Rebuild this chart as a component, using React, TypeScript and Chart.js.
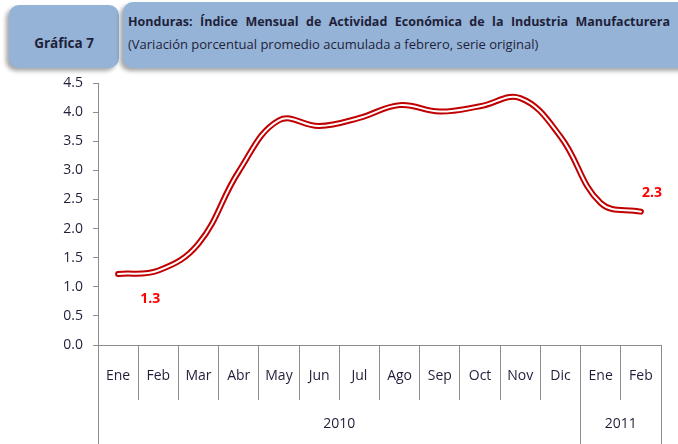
import React, { useEffect, useRef } from "react";
import { Chart, registerables } from "chart.js";

Chart.register(...registerables);

const months = ["Ene", "Feb", "Mar", "Abr", "May", "Jun", "Jul", "Ago", "Sep", "Oct", "Nov", "Dic", "Ene", "Feb"];
const values = [1.22, 1.28, 1.74, 2.98, 3.86, 3.76, 3.9, 4.12, 4.01, 4.1, 4.24, 3.58, 2.44, 2.29];
const years = ["2010", "2011"];
const yearSpans = [12, 2];
const labelIndices = [1, 13];
const labelTexts = ["1.3", "2.3"];
const yTicks = [0, 0.5, 1, 1.5, 2, 2.5, 3, 3.5, 4, 4.5];

const FONT = "'Open Sans', 'Liberation Sans', sans-serif";
const AXIS_GRAY = "#8c8c8c";
const TEXT = "#1f1f3a";

const yearBounds: number[] = [-0.5];
const yearCenters: number[] = [];
{
  let start = -0.5;
  yearSpans.forEach((n) => {
    yearCenters.push(start + n / 2);
    start += n;
    yearBounds.push(start);
  });
}

const labelOffsets = [
  { dx: -8, dy: 29 },
  { dx: 11, dy: -19 },
];

const dataLabelPlugin = {
  id: "dataLabels",
  afterDatasetsDraw(chart: any) {
    const meta = chart.getDatasetMeta(0);
    const ctx = chart.ctx;
    ctx.save();
    ctx.font = `bold 14px ${FONT}`;
    ctx.fillStyle = "#ff0000";
    ctx.textAlign = "center";
    ctx.textBaseline = "middle";
    labelIndices.forEach((idx, i) => {
      const pt = meta.data[idx];
      if (!pt) return;
      ctx.fillText(labelTexts[i], pt.x + labelOffsets[i].dx, pt.y + labelOffsets[i].dy);
    });
    ctx.restore();
  },
};

function LineChart() {
  const ref = useRef<HTMLCanvasElement | null>(null);
  useEffect(() => {
    if (!ref.current) return;
    const chart = new Chart(ref.current, {
      type: "line",
      data: {
        labels: months,
        datasets: [
          {
            data: values,
            borderColor: "#c00000",
            borderWidth: 6,
            borderCapStyle: "round",
            borderJoinStyle: "round",
            tension: 0.4,
            pointRadius: 0,
            fill: false,
            order: 2,
          },
          {
            data: values,
            borderColor: "#ffffff",
            borderWidth: 2,
            borderCapStyle: "round",
            borderJoinStyle: "round",
            tension: 0.4,
            pointRadius: 0,
            fill: false,
            order: 1,
          },
        ],
      },
      options: {
        animation: false,
        responsive: false,
        maintainAspectRatio: false,
        layout: { padding: { top: 13, right: 17, left: 0, bottom: 0 } },
        plugins: { legend: { display: false }, tooltip: { enabled: false } },
        scales: {
          y: {
            min: 0,
            max: 4.5,
            afterBuildTicks: (axis: any) => {
              axis.ticks = yTicks.map((v) => ({ value: v }));
            },
            afterFit: (s: any) => {
              s.width = 98;
              s.paddingTop = 0;
              s.paddingBottom = 0;
            },
            border: { display: true, color: AXIS_GRAY, width: 1 },
            grid: { drawOnChartArea: false, tickLength: 5, color: AXIS_GRAY },
            ticks: {
              padding: 10,
              color: TEXT,
              font: { family: FONT, size: 14 },
              callback: (v: any) => Number(v).toFixed(1),
            },
          },
          x: {
            type: "category",
            offset: true,
            weight: 0,
            afterFit: (s: any) => {
              s.height = 55;
            },
            border: { display: true, color: AXIS_GRAY, width: 1 },
            grid: { offset: true, drawOnChartArea: false, tickLength: 55, color: AXIS_GRAY },
            ticks: {
              padding: -32,
              maxRotation: 0,
              autoSkip: false,
              color: TEXT,
              font: { family: FONT, size: 14 },
            },
          },
          x2: {
            type: "linear",
            position: "bottom",
            weight: 1,
            min: -0.5,
            max: 13.5,
            afterBuildTicks: (axis: any) => {
              const vals = [...yearBounds, ...yearCenters].sort((a, b) => a - b);
              axis.ticks = vals.map((v) => ({ value: v }));
            },
            afterFit: (s: any) => {
              s.height = 44;
            },
            border: { display: false },
            grid: {
              drawOnChartArea: false,
              tickLength: 44,
              color: (c: any) =>
                c.tick && yearBounds.includes(c.tick.value) ? AXIS_GRAY : "rgba(0,0,0,0)",
            },
            ticks: {
              padding: -28,
              maxRotation: 0,
              autoSkip: false,
              color: TEXT,
              font: { family: FONT, size: 14 },
              callback: (v: any) => {
                const i = yearCenters.indexOf(Number(v));
                return i >= 0 ? years[i] : "";
              },
            },
          },
        },
      },
      plugins: [dataLabelPlugin],
    } as any);
    return () => chart.destroy();
  }, []);
  return <canvas ref={ref} width={678} height={374} style={{ position: "absolute", left: 0, top: 70, width: 678, height: 374 }} />;
}

export default function App() {
  return (
    <div style={{ position: "absolute", left: 0, top: 0, width: 678, height: 444, background: "#fff", overflow: "hidden" }}>
      <div
        style={{
          position: "absolute",
          left: 9,
          top: 5,
          width: 110,
          height: 63,
          background: "#95b3d7",
          borderRadius: 10,
          boxShadow: "-3px 3px 4px rgba(0,0,0,0.35)",
          display: "flex",
          alignItems: "center",
          justifyContent: "center",
          fontFamily: FONT,
          fontWeight: 700,
          fontSize: 13.5,
          color: TEXT,
          paddingTop: 12,
          boxSizing: "border-box",
        }}
      >
        Gráfica 7
      </div>
      <div
        style={{
          position: "absolute",
          left: 123,
          top: 2,
          width: 580,
          height: 66,
          background: "#95b3d7",
          borderRadius: 10,
          boxShadow: "-3px 3px 4px rgba(0,0,0,0.35)",
        }}
      />
      <div
        style={{
          position: "absolute",
          left: 128,
          top: 13,
          width: 542,
          fontFamily: FONT,
          fontWeight: 700,
          fontSize: 12.5,
          color: TEXT,
          textAlign: "justify",
          textAlignLast: "justify",
          whiteSpace: "nowrap",
          lineHeight: "18px",
        } as any}
      >
        Honduras: Índice Mensual de Actividad Económica de la Industria Manufacturera
      </div>
      <div
        style={{
          position: "absolute",
          left: 128,
          top: 35,
          fontFamily: FONT,
          fontSize: 13,
          color: TEXT,
          whiteSpace: "nowrap",
          lineHeight: "18px",
        }}
      >
        (Variación porcentual promedio acumulada a febrero, serie original)
      </div>
      <LineChart />
    </div>
  );
}
